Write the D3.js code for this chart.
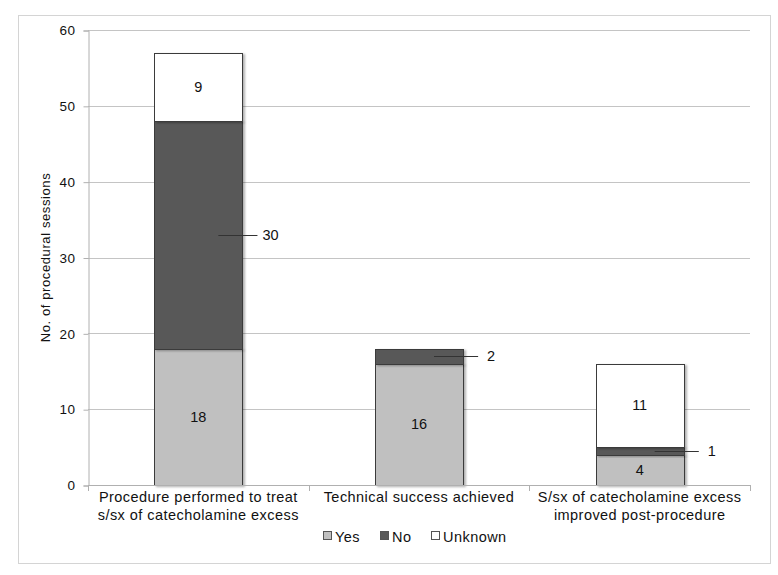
<!DOCTYPE html>
<html>
<head>
<meta charset="utf-8">
<script src="https://cdn.jsdelivr.net/npm/d3@7"></script>
<style>
  body { margin: 0; background: #fff; }
  text { font-family: "Liberation Sans", Arial, sans-serif; fill: #111; }
</style>
</head>
<body>
<svg id="chart" width="778" height="575"></svg>
<script>
// data
const categories = [
  ["Procedure performed to treat", "s/sx of catecholamine excess"],
  ["Technical success achieved"],
  ["S/sx of catecholamine excess", "improved post-procedure"]
];
const seriesNames = ["Yes", "No", "Unknown"];
const yesValues = [18, 16, 4];
const noValues = [30, 2, 1];
const unknownValues = [9, 0, 11];
const yTicks = [0, 10, 20, 30, 40, 50, 60];

const colors = { Yes: "#c0c0c0", No: "#595959", Unknown: "#ffffff" };

whenDocumentLoaded(() => {
  const svg = d3.select("#chart");
  const m = { left: 88, right: 750, top: 30, bottom: 485 };

  // outer frame
  svg.append("rect")
    .attr("x", 18.5).attr("y", 15.5)
    .attr("width", 752).attr("height", 548)
    .attr("fill", "#fff").attr("stroke", "#d4d4d4");

  const rows = categories.map((c, i) => ({
    idx: i, Yes: yesValues[i], No: noValues[i], Unknown: unknownValues[i]
  }));

  const x = d3.scaleBand()
    .domain(d3.range(categories.length))
    .range([m.left, m.right])
    .paddingInner(0.6).paddingOuter(0.3);

  const y = d3.scaleLinear().domain([0, 60]).range([m.bottom, m.top]);

  // gridlines
  svg.append("g").selectAll("line")
    .data(yTicks.filter(t => t > 0))
    .join("line")
    .attr("x1", m.left).attr("x2", m.right)
    .attr("y1", d => Math.round(y(d)) + 0.5).attr("y2", d => Math.round(y(d)) + 0.5)
    .attr("stroke", "#c4c4c4");

  // y axis
  const yAxis = svg.append("g")
    .attr("transform", `translate(${m.left + 0.5},0.5)`)
    .call(d3.axisLeft(y).tickValues(yTicks).tickSize(5).tickPadding(8));
  yAxis.select(".domain").attr("stroke", "#b0b0b0");
  yAxis.selectAll(".tick line").attr("stroke", "#b0b0b0");
  yAxis.selectAll(".tick text")
    .style("font-family", "Liberation Sans, Arial, sans-serif")
    .style("font-size", "13.5px").style("letter-spacing", "0.5px").attr("fill", "#111");

  svg.append("text")
    .attr("transform", `translate(50,${(m.top + m.bottom) / 2}) rotate(-90)`)
    .attr("text-anchor", "middle")
    .style("font-size", "13px").style("letter-spacing", "0.6px")
    .text("No. of procedural  sessions");

  // stacked bars
  const stack = d3.stack().keys(seriesNames)(rows);
  const shadow = svg.append("defs").append("filter").attr("id", "sh")
    .attr("x", "-10%").attr("y", "-10%").attr("width", "130%").attr("height", "130%");
  shadow.append("feDropShadow").attr("dx", 2).attr("dy", 1).attr("stdDeviation", 1.2)
    .attr("flood-color", "#000").attr("flood-opacity", 0.3);

  stack.forEach(layer => {
    svg.append("g").selectAll("rect")
      .data(layer.filter(d => d[1] > d[0]))
      .join("rect")
      .attr("x", d => Math.round(x(d.data.idx)) + 0.5)
      .attr("width", Math.round(x.bandwidth()))
      .attr("y", d => Math.round(y(d[1])) + 0.5)
      .attr("height", d => Math.round(y(d[0])) - Math.round(y(d[1])))
      .attr("fill", colors[layer.key])
      .attr("stroke", "#3a3a3a")
      .attr("filter", "url(#sh)");
  });

  // x axis baseline and ticks
  svg.append("line")
    .attr("x1", m.left).attr("x2", m.right)
    .attr("y1", m.bottom + 0.5).attr("y2", m.bottom + 0.5)
    .attr("stroke", "#b0b0b0");
  const step = (m.right - m.left) / categories.length;
  svg.append("g").selectAll("line")
    .data(d3.range(categories.length + 1))
    .join("line")
    .attr("x1", d => Math.round(m.left + d * step) + 0.5)
    .attr("x2", d => Math.round(m.left + d * step) + 0.5)
    .attr("y1", m.bottom).attr("y2", m.bottom + 6)
    .attr("stroke", "#b0b0b0");

  // category labels
  categories.forEach((lines, i) => {
    const t = svg.append("text")
      .attr("x", x(i) + x.bandwidth() / 2)
      .attr("y", 502)
      .attr("text-anchor", "middle")
      .style("font-size", "14.5px").style("letter-spacing", "0.45px");
    lines.forEach((l, j) => t.append("tspan")
      .attr("x", x(i) + x.bandwidth() / 2)
      .attr("dy", j === 0 ? 0 : 18).text(l));
  });

  // value labels
  stack.forEach(layer => {
    layer.forEach(d => {
      const v = d[1] - d[0];
      if (v <= 0) return;
      const cx = x(d.data.idx) + x.bandwidth() / 2;
      const cy = y((d[0] + d[1]) / 2);
      if (v >= 3 && !(layer.key === "No" && v > 20)) {
        svg.append("text").attr("x", cx).attr("y", cy + 5)
          .attr("text-anchor", "middle").style("font-size", "14.5px").text(v);
      } else {
        // leader label
        const right = x(d.data.idx) + x.bandwidth();
        const lineStart = layer.key === "No" && v > 20 ? cx + 20 : cx + 15;
        svg.append("line")
          .attr("x1", lineStart).attr("x2", right + 15)
          .attr("y1", Math.round(cy) + 0.5).attr("y2", Math.round(cy) + 0.5)
          .attr("stroke", "#333");
        svg.append("text").attr("x", right + 28).attr("y", cy + 5)
          .attr("text-anchor", "middle").style("font-size", "14.5px").text(v);
      }
    });
  });

  // legend
  const legend = svg.append("g").attr("transform", "translate(323,536)");
  const legendX = [0, 57, 108];
  seriesNames.forEach((s, i) => {
    const g = legend.append("g").attr("transform", `translate(${legendX[i]},0)`);
    g.append("rect").attr("x", 0.5).attr("y", -4.5).attr("width", 8).attr("height", 8)
      .attr("fill", colors[s]).attr("stroke", "#555");
    g.append("text").attr("x", 12).attr("y", 5.5)
      .style("font-size", "14.5px").style("letter-spacing", "0.45px").text(s);
  });
});

function whenDocumentLoaded(action) {
  if (document.readyState === "loading") {
    document.addEventListener("DOMContentLoaded", action);
  } else {
    action();
  }
}
</script>
</body>
</html>
